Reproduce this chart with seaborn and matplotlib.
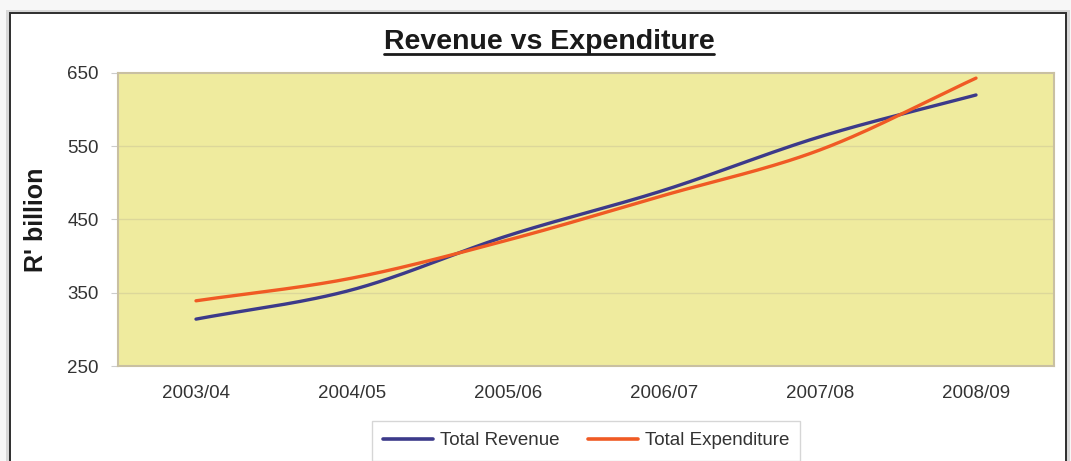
import numpy as np
import pandas as pd
import matplotlib
matplotlib.use("Agg")
import matplotlib.pyplot as plt
import seaborn as sns
from matplotlib.patches import Rectangle
from matplotlib.lines import Line2D

#------------------------------------------------------------------------------
years = ['2003/04', '2004/05', '2005/06', '2006/07', '2007/08', '2008/09']
revenue = [314, 354, 428, 490, 563, 620]
expenditure = [339, 370, 422, 483, 545, 643]
series_names = ['Total Revenue', 'Total Expenditure']
series_colors = ['#3C3A8A', '#F05A24']
y_ticks = [250, 350, 450, 550, 650]


def smooth(vals, n=30):
    # Excel style smoothed line (Catmull-Rom through the points)
    v = np.asarray(vals, dtype=float)
    p = np.concatenate(([2 * v[0] - v[1]], v, [2 * v[-1] - v[-2]]))
    xs, ys = [], []
    for i in range(len(v) - 1):
        t = np.linspace(0, 1, n, endpoint=(i == len(v) - 2))
        p0, p1, p2, p3 = p[i], p[i + 1], p[i + 2], p[i + 3]
        m1 = (p2 - p0) / 2
        m2 = (p3 - p1) / 2
        h00 = 2 * t**3 - 3 * t**2 + 1
        h10 = t**3 - 2 * t**2 + t
        h01 = -2 * t**3 + 3 * t**2
        h11 = t**3 - t**2
        ys.append(h00 * p1 + h10 * m1 + h01 * p2 + h11 * m2)
        xs.append(i + t)
    return np.concatenate(xs), np.concatenate(ys)


frames = []
for name, vals in zip(series_names, [revenue, expenditure]):
    xs, ys = smooth(vals)
    frames.append(pd.DataFrame({'x': xs, 'value': ys, 'series': name}))
df = pd.concat(frames, ignore_index=True)

#------------------------------------------------------------------------------
sns.set_theme(style='white')
plt.rcParams['font.family'] = ['Liberation Sans', 'DejaVu Sans']

W, H = 1071, 461
fig = plt.figure(figsize=(W / 100, H / 100), dpi=100)
fig.patch.set_facecolor('#F7F7F7')

# outer chart frame with a little shadow
fig.add_artist(Rectangle((6 / W, -0.2), 1064 / W, 1 - 10 / H + 0.2,
                         transform=fig.transFigure, facecolor='#D8D8D8',
                         edgecolor='none', zorder=0))
fig.add_artist(Rectangle((10 / W, -0.2), 1056 / W, 1 - 13 / H + 0.2,
                         transform=fig.transFigure, facecolor='white',
                         edgecolor='#2E2E2E', linewidth=1.4, zorder=0))

ax = fig.add_axes([118 / W, 1 - 366 / H, (1054 - 118) / W, (366 - 73) / H])
ax.set_facecolor('#EFEB9E')

sns.lineplot(data=df, x='x', y='value', hue='series', hue_order=series_names,
             palette=series_colors, linewidth=2.4, legend=False, sort=False,
             estimator=None, ax=ax)

ax.set_xlim(-0.5, len(years) - 0.5)
ax.set_ylim(250, 650)
ax.set_yticks(y_ticks)
ax.set_yticklabels([str(t) for t in y_ticks])
ax.set_xticks(range(len(years)))
ax.set_xticklabels(years)
ax.set_xlabel('')
ax.set_ylabel('')

for y in y_ticks[1:-1]:
    ax.axhline(y, color='#DCD79A', linewidth=1, zorder=0)

ax.tick_params(axis='y', length=5, width=0.8, color='#CCCCCC', pad=9,
               labelsize=13.5, labelcolor='#333333', left=True)
ax.tick_params(axis='x', length=0, pad=14, labelsize=13.5,
               labelcolor='#333333')
for s in ax.spines.values():
    s.set_color('#C9C0A2')
    s.set_linewidth(1.5)

fig.text(36 / W, 1 - 220 / H, "R' billion", rotation=90, ha='center',
         va='center', fontsize=18, fontweight='bold', color='#1A1A1A')

# title, underlined like the original
fig.text(549 / W, 1 - 42 / H, 'Revenue vs Expenditure', ha='center',
         va='center', fontsize=20.5, fontweight='bold', color='#1A1A1A')
fig.add_artist(Line2D([384 / W, 714 / W], [1 - 54 / H, 1 - 54 / H],
                      transform=fig.transFigure, color='#1A1A1A',
                      linewidth=2))

handles = [Line2D([0], [0], color=c, linewidth=2.6) for c in series_colors]
leg = fig.legend(handles, series_names, loc='upper center',
                 bbox_to_anchor=(586 / W, 1 - 421 / H), ncol=2,
                 fontsize=13.5, frameon=True, fancybox=False,
                 handlelength=2.7, handletextpad=0.35, columnspacing=1.5,
                 borderpad=0.6, borderaxespad=0)
leg.get_frame().set_edgecolor('#CCCCCC')
leg.get_frame().set_linewidth(1)
for t in leg.get_texts():
    t.set_color('#333333')

fig.savefig('out.png', dpi=100, facecolor=fig.get_facecolor())
